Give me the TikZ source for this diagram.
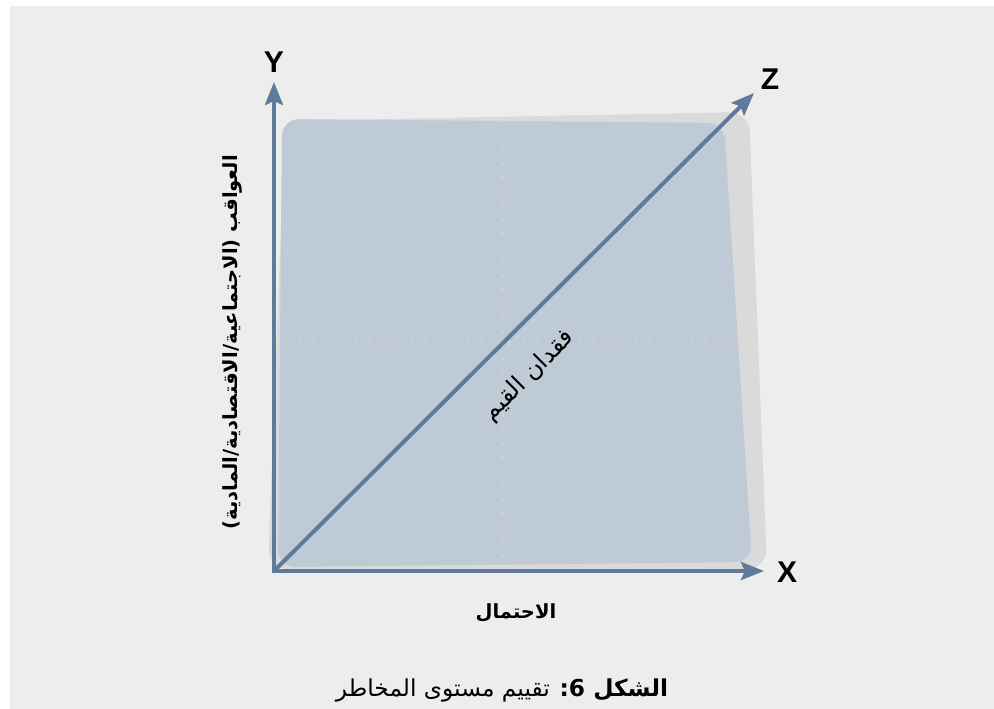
\documentclass[tikz,border=0pt]{standalone}
\usepackage{fontspec}
\usetikzlibrary{arrows.meta}
\TeXXeTstate=1
\newfontfamily\arabicfont[Script=Arabic]{DejaVu Sans}
\newfontfamily\axisfont{Liberation Sans}
\definecolor{bggray}{HTML}{EDEDED}
\definecolor{shadowgray}{HTML}{DADADA}
\definecolor{planeblue}{HTML}{BFCAD7}
\definecolor{axisblue}{RGB}{96,122,155}
\definecolor{dotgray}{HTML}{D9CFC4}
\tikzset{
  axisline/.style={draw=axisblue, line width=4pt, line join=miter},
  tipstyle/.style={-{Stealth[length=23pt,width=18pt,inset=4pt]}},
  axislbl/.style={font=\axisfont\bfseries\fontsize{30}{30}\selectfont, inner sep=0pt},
  arlbl/.style={font=\arabicfont\fontsize{20}{22}\selectfont, inner sep=0pt},
  guide/.style={draw=dotgray, line width=2.5pt, dash pattern=on 3pt off 11pt}
}
\begin{document}
\begin{tikzpicture}[x=1pt,y=-1pt]
\useasboundingbox (0,0) rectangle (994,709);
\fill[white] (0,0) rectangle (994,709);
\fill[bggray] (10,6) rectangle (994,709);
% shadow and plane
\fill[shadowgray, rounded corners=20pt] (285,121) -- (749,112) -- (767,569) -- (268,569) -- cycle;
\fill[planeblue, rounded corners=17pt] (282,119) -- (724,123) -- (752,562) -- (278,567) -- cycle;
% faint guides
\draw[guide] (503,120) -- (503,568);
\draw[guide] (284,342) -- (742,342);
% axes
\coordinate (O) at (274,571);
\coordinate (Yend) at (274,82);
\coordinate (Xend) at (764,571);
\coordinate (Zend) at (754,93);
\draw[axisline, {Stealth[length=23pt,width=18pt,inset=4pt]}-{Stealth[length=23pt,width=18pt,inset=4pt]}] (Yend) -- (O) -- (Xend);
\draw[axisline, tipstyle] (O) -- (Zend);
% axis letters
\node[axislbl] (ylab) at (274,62) {Y};
\node[axislbl] (zlab) at (770,79) {Z};
\node[axislbl] (xlab) at (787,572) {X};
% arabic labels
\node[arlbl, font=\arabicfont\bfseries\fontsize{19.5}{22}\selectfont, rotate=90] (conseq) at (232,342) {\beginR العواقب  (الاجتماعية/الاقتصادية/المادية)\endR};
\node[arlbl, font=\arabicfont\bfseries\fontsize{19.5}{22}\selectfont] (prob) at (516,613) {\beginR الاحتمال\endR};
\node[arlbl, font=\arabicfont\fontsize{24}{26}\selectfont, rotate=45] (loss) at (529,376) {\beginR فقدان القيم\endR};
\node[arlbl, font=\arabicfont\fontsize{23.3}{25}\selectfont] (caption) at (502,690) {\beginR{\bfseries الشكل 6:} تقييم مستوى المخاطر\endR};
\end{tikzpicture}
\end{document}
